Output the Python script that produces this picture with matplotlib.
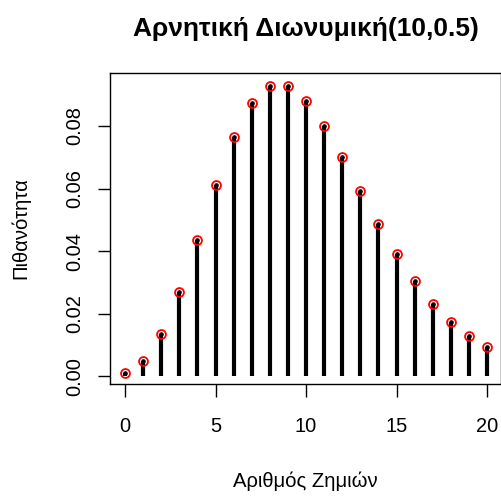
import matplotlib.pyplot as plt

plt.rcParams['font.family'] = ['Liberation Sans', 'DejaVu Sans']

# negative binomial pmf, r=10, p=0.5
losses = list(range(21))
prob = [0.000977, 0.004883, 0.013428, 0.026855, 0.043640, 0.061096,
        0.076370, 0.087280, 0.092735, 0.092735, 0.088099, 0.080090,
        0.070079, 0.059297, 0.048708, 0.038966, 0.030443, 0.023280,
        0.017460, 0.012865, 0.009327]
yticks = [0.00, 0.02, 0.04, 0.06, 0.08]
xticks = [0, 5, 10, 15, 20]

W, H = 502, 496
fig = plt.figure(figsize=(W / 100, H / 100), dpi=100)
ax = fig.add_axes([110 / W, 1 - 384 / H, 391 / W, 311 / H])

ax.vlines(losses, 0, prob, color='black', linewidth=3)
ax.plot(losses, prob, 'o', mfc='none', mec='red', ms=6.4, mew=1.3)
ax.plot(losses, prob, 'o', color='black', ms=2.3)

ax.set_xlim(-0.83, 20.77)
ax.set_ylim(-0.0024, 0.0969)
ax.set_xticks(xticks)
ax.set_yticks(yticks)
ax.set_yticklabels([f'{v:.2f}' for v in yticks], rotation=90, va='center')
ax.tick_params(length=9, width=1, labelsize=14.4)
ax.tick_params(axis='x', pad=15)
ax.tick_params(axis='y', pad=9.5)
for s in ax.spines.values():
    s.set_linewidth(1)

# title and axis labels placed like base R graphics
fig.text(305.5 / W, 1 - 36 / H, 'Αρνητική Διωνυμική(10,0.5)', fontsize=19,
         fontweight='bold', ha='center', va='baseline')
fig.text(305.5 / W, 1 - 487 / H, 'Αριθμός Ζημιών', fontsize=14.6,
         ha='center', va='baseline')
fig.text(21 / W, 1 - 228.5 / H, 'Πιθανότητα', fontsize=14.6, rotation=90,
         ha='center', va='center')

fig.savefig('out.png', dpi=100)
